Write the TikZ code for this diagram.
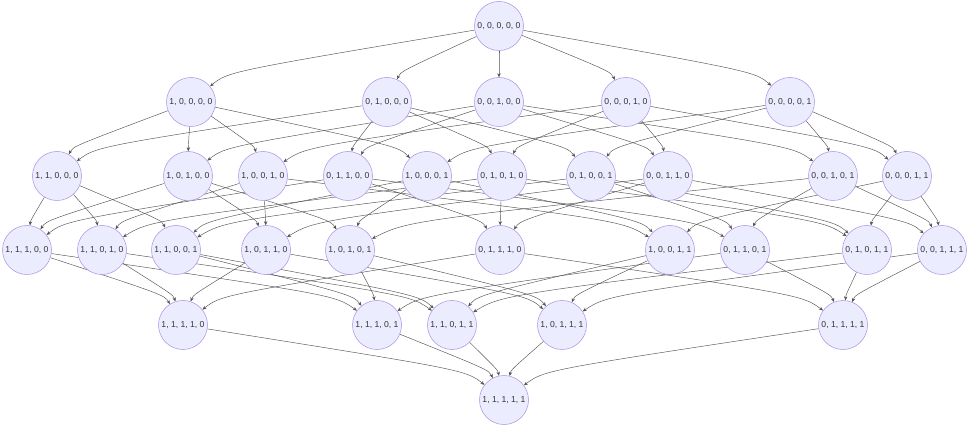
\documentclass[tikz,border=0pt]{standalone}
\usepackage{fontspec}
\setmainfont{Liberation Sans}
\usetikzlibrary{calc,arrows.meta,backgrounds}
\definecolor{nodefill}{HTML}{ECECFF}
\definecolor{nodestroke}{HTML}{9370DB}
\definecolor{ink}{HTML}{333333}
\begin{document}
\begin{tikzpicture}[x=1pt,y=-1pt,
  vtx/.style={circle,fill=nodefill,draw=nodestroke!80,line width=0.5pt,minimum size=49pt,inner sep=0pt,text=ink,font=\fontsize{8.6}{10}\selectfont},
  link/.style={draw=ink!85,line width=0.45pt,-{Stealth[length=4pt,width=3.4pt]}}]
\useasboundingbox (0,0) rectangle (969,427);
% row 0
\node[vtx] (v00000) at (499,26) {0, 0, 0, 0, 0};
% row 1
\node[vtx] (v10000) at (191,102) {1, 0, 0, 0, 0};
\node[vtx] (v01000) at (387,102) {0, 1, 0, 0, 0};
\node[vtx] (v00100) at (499,102) {0, 0, 1, 0, 0};
\node[vtx] (v00010) at (626,102) {0, 0, 0, 1, 0};
\node[vtx] (v00001) at (790,102) {0, 0, 0, 0, 1};
% row 2
\node[vtx] (v11000) at (57,176) {1, 1, 0, 0, 0};
\node[vtx] (v10100) at (188,176) {1, 0, 1, 0, 0};
\node[vtx] (v10010) at (263,176) {1, 0, 0, 1, 0};
\node[vtx] (v01100) at (348,176) {0, 1, 1, 0, 0};
\node[vtx] (v10001) at (427,176) {1, 0, 0, 0, 1};
\node[vtx] (v01010) at (502,176) {0, 1, 0, 1, 0};
\node[vtx] (v01001) at (591,176) {0, 1, 0, 0, 1};
\node[vtx] (v00110) at (668,176) {0, 0, 1, 1, 0};
\node[vtx] (v00101) at (833,176) {0, 0, 1, 0, 1};
\node[vtx] (v00011) at (907,176) {0, 0, 0, 1, 1};
% row 3
\node[vtx] (v11100) at (27,250) {1, 1, 1, 0, 0};
\node[vtx] (v11010) at (102,250) {1, 1, 0, 1, 0};
\node[vtx] (v11001) at (176,250) {1, 1, 0, 0, 1};
\node[vtx] (v10110) at (266,250) {1, 0, 1, 1, 0};
\node[vtx] (v10101) at (350,250) {1, 0, 1, 0, 1};
\node[vtx] (v01110) at (500,250) {0, 1, 1, 1, 0};
\node[vtx] (v10011) at (670,250) {1, 0, 0, 1, 1};
\node[vtx] (v01101) at (745,250) {0, 1, 1, 0, 1};
\node[vtx] (v01011) at (867,250) {0, 1, 0, 1, 1};
\node[vtx] (v00111) at (942,250) {0, 0, 1, 1, 1};
% row 4
\node[vtx] (v11110) at (183,325) {1, 1, 1, 1, 0};
\node[vtx] (v11101) at (377,325) {1, 1, 1, 0, 1};
\node[vtx] (v11011) at (452,325) {1, 1, 0, 1, 1};
\node[vtx] (v10111) at (562,325) {1, 0, 1, 1, 1};
\node[vtx] (v01111) at (843,325) {0, 1, 1, 1, 1};
% row 5
\node[vtx] (v11111) at (504,400) {1, 1, 1, 1, 1};
\begin{pgfonlayer}{background}
\foreach \a/\b in {
 v00000/v10000, v00000/v01000, v00000/v00100, v00000/v00010, v00000/v00001,
 v10000/v11000, v10000/v10100, v10000/v10010, v10000/v10001,
 v01000/v11000, v01000/v01100, v01000/v01010, v01000/v01001,
 v00100/v10100, v00100/v01100, v00100/v00110, v00100/v00101,
 v00010/v10010, v00010/v01010, v00010/v00110, v00010/v00011,
 v00001/v10001, v00001/v01001, v00001/v00101, v00001/v00011,
 v11000/v11100, v11000/v11010, v11000/v11001,
 v10100/v11100, v10100/v10110, v10100/v10101,
 v10010/v11010, v10010/v10110, v10010/v10011,
 v01100/v11100, v01100/v01110, v01100/v01101,
 v10001/v11001, v10001/v10101, v10001/v10011,
 v01010/v11010, v01010/v01110, v01010/v01011,
 v01001/v11001, v01001/v01101, v01001/v01011,
 v00110/v10110, v00110/v01110, v00110/v00111,
 v00101/v10101, v00101/v01101, v00101/v00111,
 v00011/v10011, v00011/v01011, v00011/v00111,
 v11100/v11110, v11100/v11101,
 v11010/v11110, v11010/v11011,
 v11001/v11101, v11001/v11011,
 v10110/v11110, v10110/v10111,
 v10101/v11101, v10101/v10111,
 v01110/v11110, v01110/v01111,
 v10011/v11011, v10011/v10111,
 v01101/v11101, v01101/v01111,
 v01011/v11011, v01011/v01111,
 v00111/v10111, v00111/v01111,
 v11110/v11111, v11101/v11111, v11011/v11111, v10111/v11111, v01111/v11111}
 { \draw[link] (\a) .. controls ($(\b)!0.4!(\b|-\a) + 0.12*(\a) - 0.12*(\b|-\a)$) .. (\b); }
\end{pgfonlayer}
\end{tikzpicture}
\end{document}
